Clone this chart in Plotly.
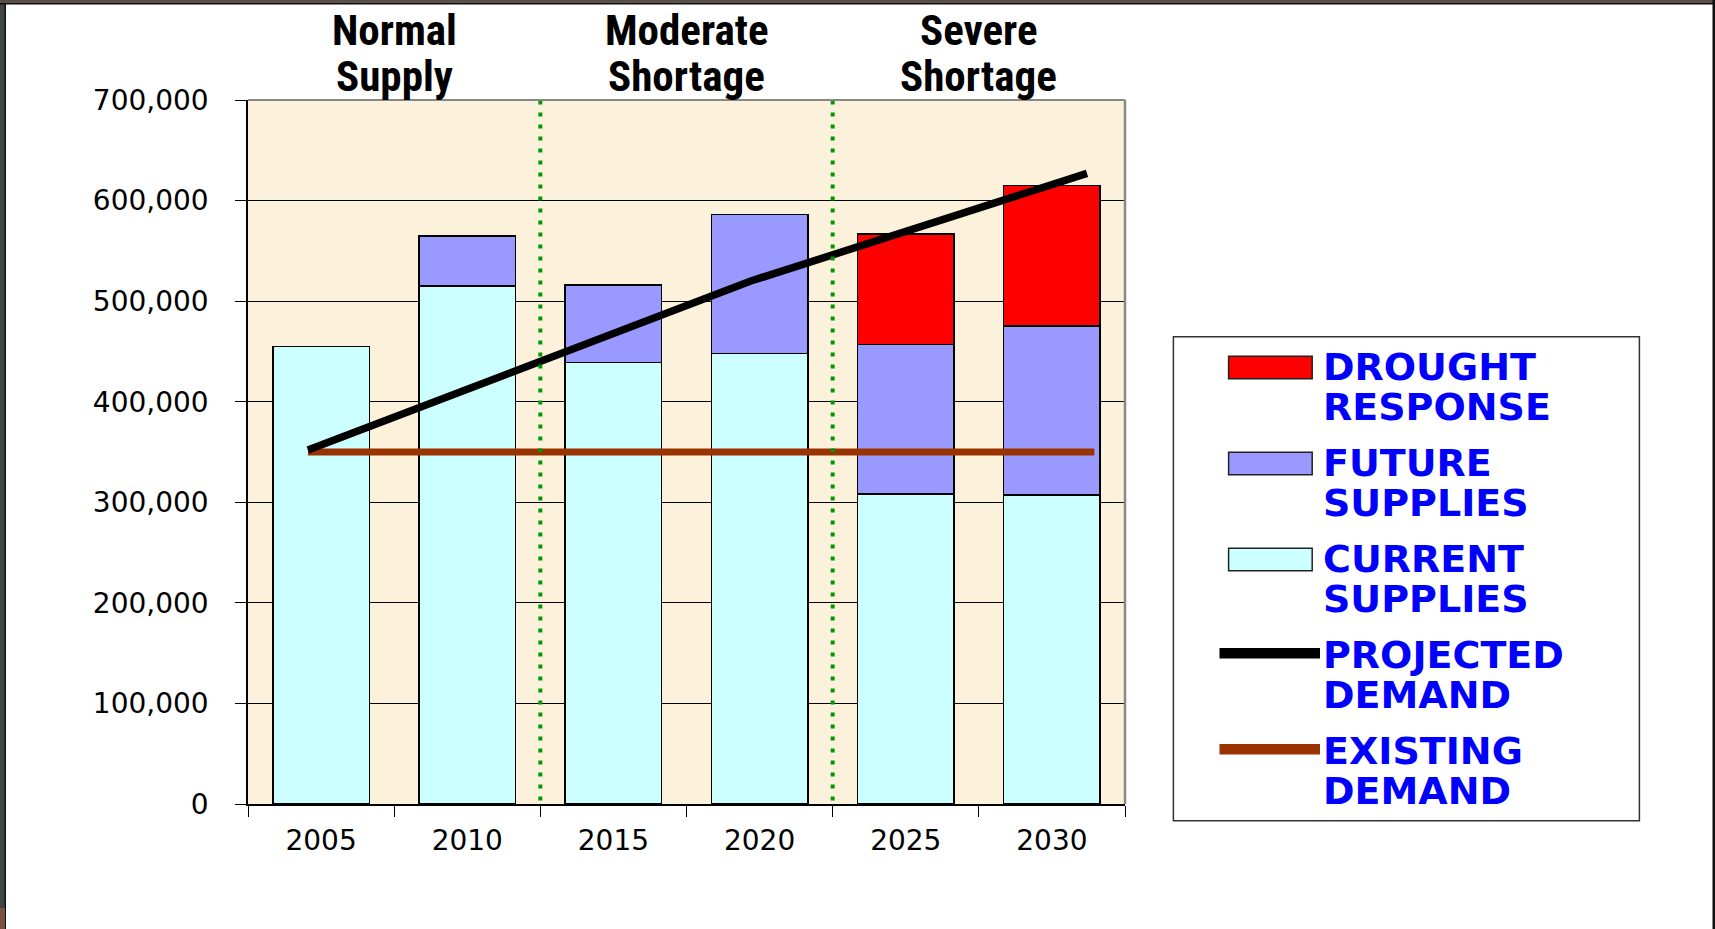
import plotly.graph_objects as go

# ---------------- data ----------------
years = ["2005", "2010", "2015", "2020", "2025", "2030"]
current_supplies = [455000, 515000, 439000, 448000, 308000, 307000]
future_supplies = [None, 50000, 77000, 138000, 149000, 168000]
drought_response = [None, None, None, None, 110000, 140000]

# demand lines (x in year units on a continuous axis)
projected_x = [2004.55, 2019.7, 2031.2]
projected_y = [352000, 520000, 627000]
existing_x = [2004.55, 2031.45]
existing_y = [350000, 350000]

phase_bounds = [2002.5, 2012.5, 2022.5, 2032.5]
phase_labels = [["Normal", "Supply"], ["Moderate", "Shortage"], ["Severe", "Shortage"]]

y_ticks = [0, 100000, 200000, 300000, 400000, 500000, 600000, 700000]

legend_names = ["DROUGHT RESPONSE", "FUTURE SUPPLIES", "CURRENT SUPPLIES",
                "PROJECTED DEMAND", "EXISTING DEMAND"]
legend_kinds = ["bar", "bar", "bar", "line", "line"]
legend_colors = ["#FF0000", "#9999FF", "#CCFFFF", "#000000", "#993300"]

# ---------------- layout geometry ----------------
W, H = 1715, 929
L, R, T, B = 248, 590, 100, 125
PW = W - L - R
PH = H - T - B


def px2x(px):
    return (px - L) / PW


def px2y(py):
    return (H - B - py) / PH


fig = go.Figure()

bar_line = dict(color="#000000", width=1.6)
fig.add_trace(go.Bar(x=years, y=current_supplies, name="CURRENT SUPPLIES",
                     marker=dict(color="#CCFFFF", line=bar_line), width=0.66,
                     showlegend=False))
fig.add_trace(go.Bar(x=years, y=future_supplies, name="FUTURE SUPPLIES",
                     marker=dict(color="#9999FF", line=bar_line), width=0.66,
                     showlegend=False))
fig.add_trace(go.Bar(x=years, y=drought_response, name="DROUGHT RESPONSE",
                     marker=dict(color="#FF0000", line=bar_line), width=0.66,
                     showlegend=False))

fig.add_trace(go.Scatter(x=existing_x, y=existing_y, xaxis="x2", mode="lines",
                         line=dict(color="#993300", width=7), showlegend=False,
                         name="EXISTING DEMAND"))
fig.add_trace(go.Scatter(x=projected_x, y=projected_y, xaxis="x2", mode="lines",
                         line=dict(color="#000000", width=7.5), showlegend=False,
                         name="PROJECTED DEMAND"))

shapes = []
# green dotted phase separators
for b in phase_bounds[1:-1]:
    shapes.append(dict(type="line", xref="x2", yref="paper", x0=b, x1=b, y0=0.005, y1=1,
                       line=dict(color="#009900", width=4, dash="4px,8px"), layer="above"))
# gray top / right plot border
shapes.append(dict(type="line", xref="paper", yref="paper", x0=0, x1=1, y0=1, y1=1,
                   line=dict(color="#888888", width=2)))
shapes.append(dict(type="line", xref="paper", yref="paper", x0=1, x1=1, y0=0, y1=1,
                   line=dict(color="#888888", width=2.5)))

# legend box
shapes.append(dict(type="rect", xref="paper", yref="paper",
                   x0=px2x(1173.4), x1=px2x(1639.4), y0=px2y(820.7), y1=px2y(336.7),
                   fillcolor="#FFFFFF", line=dict(color="#333333", width=1.5)))

annotations = []
item0, step, lstep = 366.8, 96.0, 40.4
for i, (nm, kind, col) in enumerate(zip(legend_names, legend_kinds, legend_colors)):
    cy = item0 + step * i
    if kind == "bar":
        shapes.append(dict(type="rect", xref="paper", yref="paper",
                           x0=px2x(1228.6), x1=px2x(1312.2),
                           y0=px2y(cy + 12), y1=px2y(cy - 10.5),
                           fillcolor=col, line=dict(color="#222222", width=1.5)))
    else:
        shapes.append(dict(type="line", xref="paper", yref="paper",
                           x0=px2x(1219.5), x1=px2x(1320), y0=px2y(cy - 1.5), y1=px2y(cy - 1.5),
                           line=dict(color=col, width=10.5)))
    for j, word in enumerate(nm.split(" ")):
        annotations.append(dict(xref="paper", yref="paper", x=px2x(1321), y=px2y(cy + lstep * j),
                                xanchor="left", yanchor="middle", showarrow=False, text=word,
                                font=dict(family="DejaVu Sans", size=38, color="#0000FF",
                                          weight="bold")))

# phase headers
header_family = ("Roboto Condensed, Liberation Sans Narrow, Arial Narrow, "
                 "Open Sans Condensed, DejaVu Sans Condensed, sans-serif")
for k, lines in enumerate(phase_labels):
    cx = (phase_bounds[k] + phase_bounds[k + 1]) / 2
    for j, word in enumerate(lines):
        annotations.append(dict(xref="x2", yref="paper", x=cx, y=px2y(29.5 + 46.6 * j),
                                xanchor="center", yanchor="middle", showarrow=False, text=word,
                                font=dict(family=header_family, size=43, color="#000000",
                                          weight="bold")))

# screenshot frame
frame = [
    (0, 6, 0, H, "#3F4747"),
    (4.5, 6, 0, H, "#111111"),
    (0, W, 0, 3.5, "#5A5048"),
    (0, W, 3, 4.5, "#111111"),
    (1712.5, W, 0, H, "#111111"),
    (0, 5, 908, H, "#7A5040"),
]
for x0, x1, y0, y1, c in frame:
    shapes.append(dict(type="rect", xref="paper", yref="paper",
                       x0=px2x(x0), x1=px2x(x1), y0=px2y(y1), y1=px2y(y0),
                       fillcolor=c, line=dict(width=0), layer="above"))

tick_font = dict(family="DejaVu Sans", size=28, color="#000000")

fig.update_layout(
    width=W, height=H,
    margin=dict(l=L, r=R, t=T, b=B, autoexpand=False),
    paper_bgcolor="#FFFFFF",
    plot_bgcolor="#FCF2DC",
    barmode="stack",
    showlegend=False,
    xaxis=dict(type="category", range=[-0.5, 5.5], tickson="boundaries",
               ticks="outside", ticklen=11, tickcolor="#000000", tickwidth=1.2,
               showline=True, linecolor="#000000", linewidth=1.5, showgrid=False,
               tickfont=tick_font, ticklabelstandoff=11, fixedrange=True),
    xaxis2=dict(overlaying="x", range=[phase_bounds[0], phase_bounds[-1]], visible=False,
                fixedrange=True),
    yaxis=dict(range=[0, 700000], tickvals=y_ticks, tickformat=",d",
               ticks="outside", ticklen=11, tickcolor="#000000", tickwidth=1.2,
               showline=True, linecolor="#000000", linewidth=1.5,
               showgrid=True, gridcolor="#000000", gridwidth=1, zeroline=False,
               tickfont=tick_font, ticklabelstandoff=21, fixedrange=True),
    shapes=shapes,
    annotations=annotations,
)

fig.write_html("out.html")
